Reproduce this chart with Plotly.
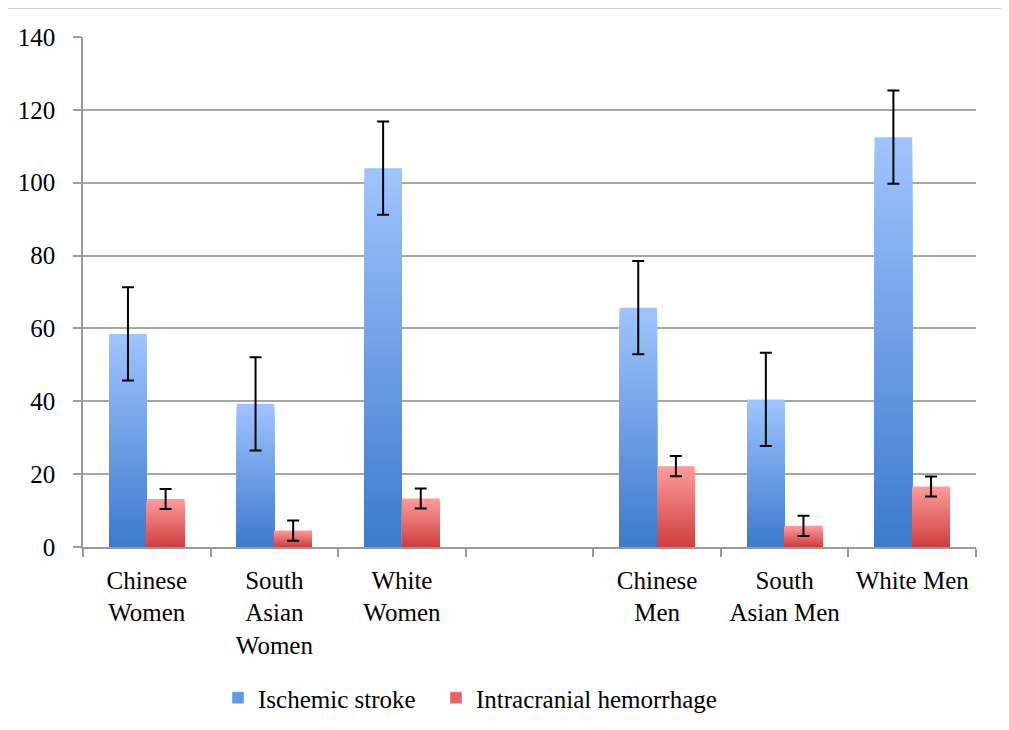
import plotly.graph_objects as go

categories = ["Chinese<br>Women", "South<br>Asian<br>Women", "White<br>Women", " ",
              "Chinese<br>Men", "South<br>Asian Men", "White Men"]
ischemic = [58.5, 39.3, 104.0, None, 65.7, 40.5, 112.5]
ischemic_err = [12.8, 12.8, 12.8, None, 12.8, 12.8, 12.8]
ich = [13.2, 4.5, 13.3, None, 22.2, 5.8, 16.6]
ich_err = [2.75, 2.75, 2.75, None, 2.75, 2.75, 2.75]

FONT = "Liberation Serif"
N = 40

# page body has an 8px margin; figure is sized/offset to compensate
W, H = 1001, 722
L, T, R, B = 75, 29, 33, 183
PW, PH = W - L - R, H - T - B


def lerp(c1, c2, t):
    return "rgb(%d,%d,%d)" % tuple(round(a + (b - a) * t) for a, b in zip(c1, c2))


def px(xp):  # page x -> paper
    return (xp - 8 - L) / PW


def py(yp):  # page y -> paper
    return (H - B - (yp - 8)) / PH


fig = go.Figure()


def add_series(name, vals, errs, bottom, top, group, legend_color, legend_id):
    # gradient: overlapping bars drawn tallest first
    for j in range(N):
        frac_h = (N - j) / N
        col = lerp(bottom, top, (N - j - 0.5) / N)
        fig.add_trace(go.Bar(
            x=categories,
            y=[v * frac_h if v is not None else None for v in vals],
            offsetgroup=group, marker=dict(color=col, line=dict(width=0)),
            showlegend=False, hoverinfo="skip"))
    # error bars
    fig.add_trace(go.Bar(
        x=categories, y=vals, name=name, offsetgroup=group,
        marker=dict(color="rgba(0,0,0,0)", line=dict(width=0)),
        error_y=dict(type="data", array=errs, visible=True, color="black",
                     thickness=2, width=6),
        showlegend=False))
    # legend entry
    fig.add_trace(go.Bar(
        x=[None], y=[None], name=name, marker=dict(color=legend_color),
        showlegend=True, legend=legend_id))


add_series("Ischemic stroke", ischemic, ischemic_err,
           (60, 122, 204), (160, 196, 255), "a", "rgb(100,150,230)", "legend")
add_series("Intracranial hemorrhage", ich, ich_err,
           (206, 62, 62), (255, 156, 156), "b", "rgb(232,100,100)", "legend2")

leg_common = dict(orientation="h", xref="container", xanchor="left",
                  yref="container", y=1 - (698 - 8) / H, yanchor="middle",
                  font=dict(family=FONT, size=25), bgcolor="rgba(0,0,0,0)")

fig.update_layout(
    width=W, height=H,
    margin=dict(l=L, r=R, t=T, b=B, autoexpand=False),
    paper_bgcolor="white", plot_bgcolor="white",
    barmode="group", bargap=0.41, bargroupgap=0,
    font=dict(family=FONT, size=25, color="black"),
    showlegend=True,
    legend=dict(x=(218 - 8) / W, **leg_common),
    legend2=dict(x=(436 - 8) / W, **leg_common),
    xaxis=dict(type="category", categoryorder="array", categoryarray=categories,
               tickson="boundaries", ticks="outside", ticklen=8,
               tickcolor="#9a9a9a", tickwidth=1.5,
               showline=True, linecolor="#9a9a9a", linewidth=1.5,
               showgrid=False, tickangle=0, ticklabelstandoff=10,
               tickfont=dict(family=FONT, size=25)),
    yaxis=dict(range=[0, 140], dtick=20, ticks="outside", ticklen=8,
               tickcolor="#a0a0a0", tickwidth=1.5,
               showline=True, linecolor="#9a9a9a", linewidth=1.5,
               showgrid=True, gridcolor="#a6a6a6", gridwidth=1.5,
               zeroline=False, ticklabelstandoff=13,
               tickfont=dict(family=FONT, size=25)),
    shapes=[
        dict(type="line", xref="paper", yref="paper",
             x0=px(8), x1=px(1004), y0=py(8), y1=py(8),
             line=dict(color="#bdbdbd", width=1.5)),
        dict(type="line", xref="paper", yref="paper",
             x0=px(1004), x1=px(1004), y0=py(8), y1=py(740),
             line=dict(color="#bdbdbd", width=1.5)),
    ],
)

fig.write_html("out.html")
